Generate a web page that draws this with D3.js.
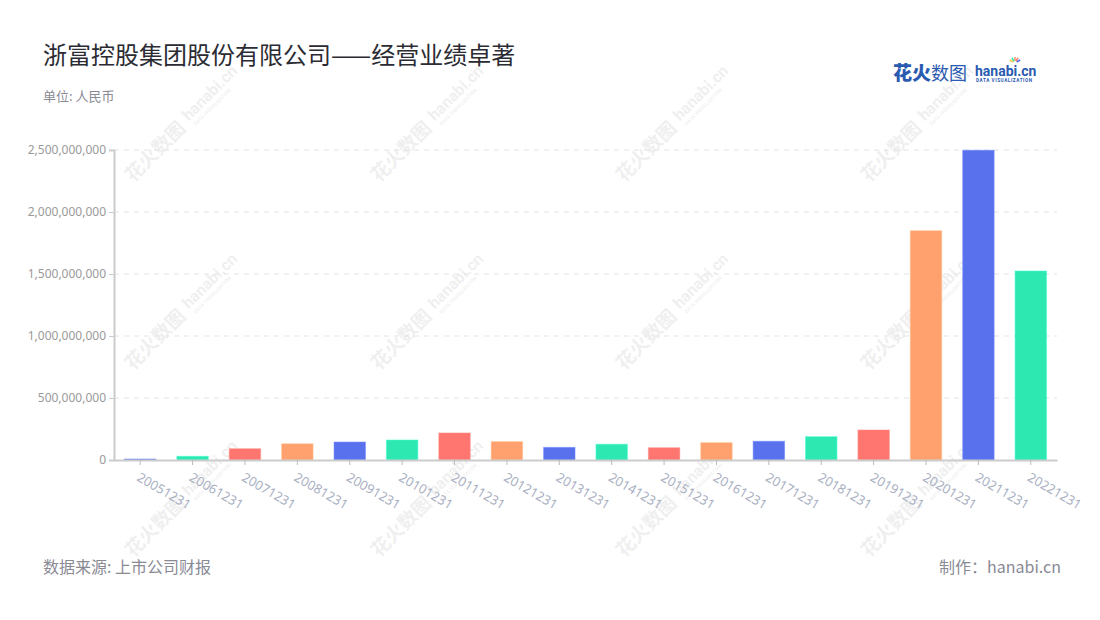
<!DOCTYPE html>
<html>
<head>
<meta charset="utf-8">
<script src="https://cdn.jsdelivr.net/npm/d3@7"></script>
<style>
  html, body { margin: 0; padding: 0; background: #fff; }
  svg { display: block; font-family: "Noto Sans CJK SC", "Noto Sans", sans-serif; }
</style>
</head>
<body>
<svg id="chart" width="1100" height="620"></svg>
<script>
const categories = ["20051231","20061231","20071231","20081231","20091231","20101231","20111231","20121231","20131231","20141231","20151231","20161231","20171231","20181231","20191231","20201231","20211231","20221231"];
const values = [8e6, 30e6, 91e6, 131e6, 145e6, 161e6, 218e6, 148e6, 102e6, 127e6, 99e6, 140e6, 151e6, 188e6, 242e6, 1849e6, 2498e6, 1524e6];
const yTicks = [0, 500000000, 1000000000, 1500000000, 2000000000, 2500000000];
const palette = ["#5A71EE", "#2DE8B1", "#FF7670", "#FFA06F"];
const titleText = "浙富控股集团股份有限公司——经营业绩卓著";
const unitText = "单位: 人民币";
const sourceText = "数据来源: 上市公司财报";
const makerText = "制作：hanabi.cn";

const svg = d3.select("#chart");
const m = { left: 114, right: 1057, top: 150, bottom: 460 };

// watermarks
const wmX = [181, 427, 672, 917], wmY = [125, 313, 500];
const wm = svg.append("g").attr("pointer-events", "none");
wmY.forEach(y => wmX.forEach(x => {
  const g = wm.append("g").attr("transform", `translate(${x},${y}) rotate(-45)`).attr("opacity", 0.06);
  g.append("text").attr("x", -75).attr("y", 7).attr("font-size", 19).attr("font-weight", 700)
    .attr("fill", "#000").text("花火数图");
  g.append("text").attr("x", 8).attr("y", 3).attr("font-size", 16).attr("font-weight", 700)
    .attr("font-family", "Roboto, sans-serif").attr("fill", "#000").text("hanabi.cn");
  g.append("text").attr("x", 10).attr("y", 11).attr("font-size", 5).attr("font-weight", 700)
    .attr("font-family", "Roboto, sans-serif").attr("fill", "#000").text("DATA VISUALIZATION");
}));

// title
svg.append("text").attr("x", 43).attr("y", 64).attr("font-size", 24).attr("fill", "#2b2b33").text(titleText);
svg.append("text").attr("x", 43).attr("y", 101).attr("font-size", 13).attr("fill", "#8a8a95").text(unitText);

// logo
const logo = svg.append("g").attr("transform", "translate(893,80)");
logo.append("text").attr("x", 0).attr("y", 0).attr("font-size", 19).attr("font-weight", 900).attr("fill", "#2A5BB0").text("花火");
logo.append("text").attr("x", 38).attr("y", 0).attr("font-size", 18).attr("font-weight", 400).attr("fill", "#2A5BB0").text("数图");
logo.append("text").attr("x", 82).attr("y", -4).attr("font-size", 14).attr("font-weight", 700)
  .attr("font-family", "Roboto, sans-serif").attr("fill", "#2A5BB0").text("hanabi.cn");
logo.append("text").attr("x", 83).attr("y", 2).attr("font-size", 4.6).attr("font-weight", 700)
  .attr("font-family", "Roboto, sans-serif").attr("fill", "#2A5BB0").attr("letter-spacing", 0.6).text("DATA VISUALIZATION");
const spark = [["#FF7670",-60],["#FFA06F",-90],["#2DE8B1",-120],["#5A71EE",-30],["#F7C948",-150]];
spark.forEach(([c,a]) => {
  const r = a*Math.PI/180;
  logo.append("line").attr("x1", 122 + Math.cos(r)*2).attr("y1", -17 + Math.sin(r)*2)
    .attr("x2", 122 + Math.cos(r)*6).attr("y2", -17 + Math.sin(r)*6)
    .attr("stroke", c).attr("stroke-width", 1.6);
});

// scales
const x = d3.scaleBand().domain(categories).range([m.left, m.right]).paddingInner(0.4).paddingOuter(0.2);
const y = d3.scaleLinear().domain([0, 2500000000]).range([m.bottom, m.top]);

// grid
svg.append("g").selectAll("line").data(yTicks.filter(d => d > 0)).join("line")
  .attr("x1", m.left).attr("x2", m.right)
  .attr("y1", d => y(d)).attr("y2", d => y(d))
  .attr("stroke", "#e3e3e3").attr("stroke-dasharray", "5,5");

// y axis
const yAxis = svg.append("g").attr("transform", `translate(${m.left},0)`)
  .call(d3.axisLeft(y).tickValues(yTicks).tickFormat(d3.format(",")).tickSize(5).tickPadding(3));
yAxis.select(".domain").attr("stroke", "#ccc").attr("stroke-width", 2);
yAxis.selectAll(".tick line").attr("stroke", "#ccc");
yAxis.selectAll("text").attr("font-size", 12).attr("fill", "#9a9a9a").attr("font-family", "Noto Sans, sans-serif");

// bars
svg.append("g").selectAll("rect").data(values).join("rect")
  .attr("x", (d, i) => x(categories[i]))
  .attr("width", x.bandwidth())
  .attr("y", d => y(d))
  .attr("height", d => y(0) - y(d))
  .attr("fill", (d, i) => palette[i % 4])
  .attr("stroke", (d, i) => d3.color(palette[i % 4]).brighter(0.5))
  .attr("stroke-opacity", 0.5)
  .attr("stroke-width", 1);

// x axis
const xAxis = svg.append("g").attr("transform", `translate(0,${m.bottom})`)
  .call(d3.axisBottom(x).tickSize(5).tickSizeOuter(0).tickPadding(8));
xAxis.select(".domain").attr("stroke", "#ccc").attr("stroke-width", 2);
xAxis.selectAll(".tick line").attr("stroke", "#bbb");
xAxis.selectAll("text")
  .attr("font-size", 13).attr("fill", "#a9b0c2").attr("font-family", "Noto Sans, sans-serif")
  .attr("text-anchor", "start").attr("dy", "0.35em")
  .attr("transform", "translate(-2,16) rotate(30)")
  .attr("y", 0).attr("x", 0);

// footer
svg.append("text").attr("x", 43).attr("y", 573).attr("font-size", 16).attr("fill", "#8a8a95").text(sourceText);
svg.append("text").attr("x", 1061).attr("y", 573).attr("font-size", 16).attr("fill", "#8a8a95")
  .attr("text-anchor", "end").text(makerText);
</script>
</body>
</html>
